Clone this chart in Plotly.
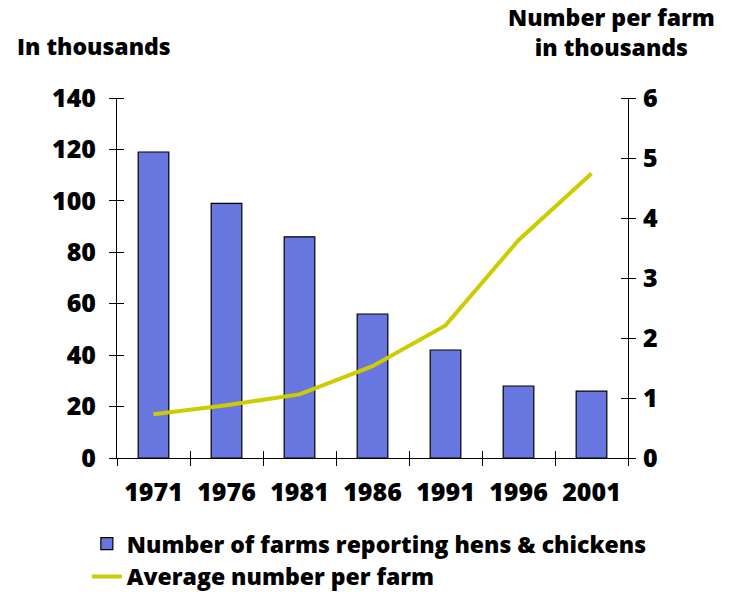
import plotly.graph_objects as go

# Census years and series values
years = ["1971", "1976", "1981", "1986", "1991", "1996", "2001"]
farms_thousands = [119, 99, 86, 56, 42, 28, 26]          # farms reporting hens & chickens
avg_per_farm_thousands = [0.73, 0.88, 1.06, 1.53, 2.21, 3.63, 4.74]

left_ticks = [0, 20, 40, 60, 80, 100, 120, 140]
right_ticks = [0, 1, 2, 3, 4, 5, 6]

FONT = "Open Sans"
WEIGHT = 800
SIZE = 23
TICK_SIZE = 25
BAR_COLOR = "#6877E0"
LINE_COLOR = "#CCCC00"

fig = go.Figure()
fig.add_trace(go.Bar(
    x=years, y=farms_thousands,
    name="Number of farms reporting hens & chickens",
    marker=dict(color=BAR_COLOR, line=dict(color="#000000", width=1.2)),
    xaxis="x", yaxis="y",
))
fig.add_trace(go.Scatter(
    x=years, y=avg_per_farm_thousands,
    name="Average number per farm",
    mode="lines",
    line=dict(color=LINE_COLOR, width=4),
    xaxis="x2", yaxis="y2",
))

tick_font = dict(family=FONT, size=TICK_SIZE, color="#000000", weight=WEIGHT)
n = len(years)
cat_range = [-0.5, n - 0.5]

fig.update_layout(
    width=736, height=592,
    margin=dict(l=117, r=108, t=98, b=134, autoexpand=False),
    paper_bgcolor="white", plot_bgcolor="white",
    font=dict(family=FONT, size=SIZE, color="#000000", weight=WEIGHT),
    bargap=0.58,
    showlegend=True,
    legend=dict(
        x=-0.059, y=-0.178, xanchor="left", yanchor="top",
        font=dict(family=FONT, size=SIZE, color="#000000", weight=WEIGHT),
        tracegroupgap=0, itemwidth=30,
        bgcolor="rgba(0,0,0,0)",
    ),
    xaxis=dict(
        type="category", range=cat_range, categoryarray=years,
        showline=True, linecolor="#000000", linewidth=1,
        ticks="outside", tickson="boundaries", ticklen=7, tickcolor="#000000",
        tickfont=tick_font, ticklabelstandoff=12,
        showgrid=False, zeroline=False,
    ),
    # second category axis (same categories) carries the line and the inner tick halves
    xaxis2=dict(
        type="category", overlaying="x", anchor="y", side="bottom",
        range=cat_range, categoryarray=years,
        ticks="inside", tickson="boundaries", ticklen=7, tickcolor="#000000",
        showticklabels=False, showline=False, showgrid=False, zeroline=False,
    ),
    yaxis=dict(
        range=[0, 140], tickvals=left_ticks,
        showline=True, linecolor="#000000", linewidth=1,
        ticks="outside", ticklen=7, tickcolor="#000000",
        tickfont=tick_font, ticklabelstandoff=8,
        minor=dict(tickvals=left_ticks, ticks="inside", ticklen=7,
                   tickcolor="#000000", showgrid=False),
        showgrid=False, zeroline=False,
    ),
    yaxis2=dict(
        overlaying="y", side="right", anchor="x", range=[0, 6], tickvals=right_ticks,
        showline=True, linecolor="#000000", linewidth=1,
        ticks="outside", ticklen=7, tickcolor="#000000",
        tickfont=tick_font, ticklabelstandoff=2,
        minor=dict(tickvals=right_ticks, ticks="inside", ticklen=7,
                   tickcolor="#000000", showgrid=False),
        showgrid=False, zeroline=False,
    ),
    annotations=[
        dict(text="In thousands", xref="paper", yref="paper",
             x=-0.2, y=1.144, xanchor="left", yanchor="middle",
             showarrow=False, font=dict(family=FONT, size=SIZE, weight=WEIGHT)),
        dict(text="Number per farm<br>in thousands", xref="paper", yref="paper",
             x=0.967, y=1.184, xanchor="center", yanchor="middle",
             showarrow=False, align="center",
             font=dict(family=FONT, size=SIZE, weight=WEIGHT)),
    ],
)

fig.write_html("out.html")
